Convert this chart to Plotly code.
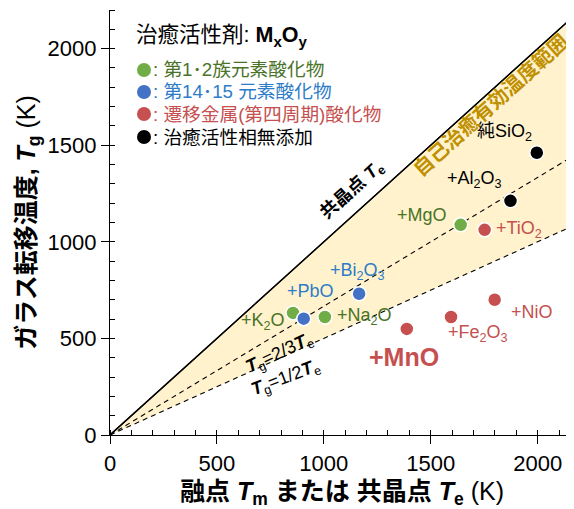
import plotly.graph_objects as go

# ---------------- data ----------------
green_names = ["+MgO", "+K<sub>2</sub>O", "+Na<sub>2</sub>O"]
green_te = [1640, 856, 1005]
green_tg = [1088, 632, 611]

blue_names = ["+Bi<sub>2</sub>O<sub>3</sub>", "+PbO"]
blue_te = [1165, 906]
blue_tg = [731, 602]

red_names = ["+TiO<sub>2</sub>", "+MnO", "+Fe<sub>2</sub>O<sub>3</sub>", "+NiO"]
red_te = [1752, 1388, 1595, 1799]
red_tg = [1062, 549, 611, 700]

black_names = ["純SiO<sub>2</sub>", "+Al<sub>2</sub>O<sub>3</sub>"]
black_te = [1996, 1873]
black_tg = [1461, 1212]

# label anchor positions (data units)
green_lab_x = [1458, 715, 1190]
green_lab_y = [1140, 585, 611]
blue_lab_x = [1159, 939]
blue_lab_y = [845, 746]
red_lab_x = [1911, 1374, 1720, 1972]
red_lab_y = [1062, 404, 523, 637]
black_lab_x = [1846, 1706]
black_lab_y = [1565, 1321]

ratio_lines = [1.0, 2.0 / 3.0, 0.5]
line_x = [0, 2600]

x_ticks = [0, 500, 1000, 1500, 2000]
y_ticks = [0, 500, 1000, 1500, 2000]

C_GREEN_M, C_GREEN_T = "#70AD47", "#4A7328"
C_BLUE_M, C_BLUE_T = "#4472C4", "#2E7CC8"
C_RED_M, C_RED_T = "#C5504F", "#C5504F"
C_BLACK = "#000000"
C_FILL = "#FFF2CC"
C_GOLD = "#BF9000"

FONT = "Liberation Sans, Arial, Noto Sans CJK JP, sans-serif"

fig = go.Figure()

# shaded region between Te line and 1/2 Te line
fig.add_trace(go.Scatter(x=line_x, y=[v * ratio_lines[0] for v in line_x], mode="lines",
                         line=dict(color="black", width=1.3), showlegend=False, hoverinfo="skip"))
fig.add_trace(go.Scatter(x=line_x, y=[v * ratio_lines[2] for v in line_x], mode="lines",
                         line=dict(color="black", width=1.1, dash="5px,4px"), fill="tonexty",
                         fillcolor=C_FILL, showlegend=False, hoverinfo="skip"))
fig.add_trace(go.Scatter(x=line_x, y=[v * ratio_lines[1] for v in line_x], mode="lines",
                         line=dict(color="black", width=1.1, dash="5px,4px"),
                         showlegend=False, hoverinfo="skip"))
fig.add_trace(go.Scatter(x=line_x, y=[v * ratio_lines[0] for v in line_x], mode="lines",
                         line=dict(color="black", width=1.3), showlegend=False, hoverinfo="skip"))

def pts(xs, ys, color):
    fig.add_trace(go.Scatter(x=xs, y=ys, mode="markers", showlegend=False,
                             marker=dict(size=14, color=color, line=dict(color="white", width=1.5))))

pts(green_te, green_tg, C_GREEN_M)
pts(blue_te, blue_tg, C_BLUE_M)
pts(red_te, red_tg, C_RED_M)
pts(black_te, black_tg, C_BLACK)

ann = []

def labels(names, xs, ys, color, bold_idx=None):
    for i, (n, x, y) in enumerate(zip(names, xs, ys)):
        txt = n
        size = 18
        if bold_idx is not None and i == bold_idx:
            txt = "<b>" + n + "</b>"
            size = 25
        ann.append(dict(x=x, y=y, xref="x", yref="y", text=txt, showarrow=False,
                        font=dict(family=FONT, size=size, color=color)))

labels(green_names, green_lab_x, green_lab_y, C_GREEN_T)
labels(blue_names, blue_lab_x, blue_lab_y, C_BLUE_T)
labels(red_names, red_lab_x, red_lab_y, C_RED_T, bold_idx=1)
labels(black_names, black_lab_x, black_lab_y, C_BLACK)

# rotated line labels
ann.append(dict(x=1775, y=1710, xref="x", yref="y", text="<b>自己治癒有効温度範囲</b>", showarrow=False,
                textangle=-42, font=dict(family="Noto Sans CJK JP", size=20, color=C_GOLD)))
ann.append(dict(x=1135, y=1265, xref="x", yref="y", text="<b>共晶点 <i>T</i><sub>e</sub></b>", showarrow=False,
                textangle=-42, font=dict(family=FONT, size=18, color="black")))
ann.append(dict(x=797, y=420, xref="x", yref="y",
                text="<b><i>T</i></b><sub>g</sub>=2/3<b><i>T</i></b><sub>e</sub>", showarrow=False,
                textangle=-25, font=dict(family=FONT, size=18, color="black")))
ann.append(dict(x=822, y=293, xref="x", yref="y",
                text="<b><i>T</i></b><sub>g</sub>=1/2<b><i>T</i></b><sub>e</sub>", showarrow=False,
                textangle=-21, font=dict(family=FONT, size=18, color="black")))

# page has an 8px body margin: figure is drawn from (8, 8)
OFF = 8
W, H = 574 - OFF, 509 - OFF
L, R, T, B = 110 - OFF, 0, 10 - OFF, 74
pw, ph = W - L - R, H - T - B

def px(xp):
    return (xp - OFF - L) / pw

def py(yp):
    return 1 - (yp - OFF - T) / ph

ann.append(dict(x=px(134), y=py(37), xref="paper", yref="paper",
                text="治癒活性剤: <b>M<sub>x</sub>O<sub>y</sub></b>",
                showarrow=False, xanchor="left", yanchor="middle",
                font=dict(family=FONT, size=21.5, color="black")))
legend_rows = [
    (": 第1･2族元素酸化物", C_GREEN_M, C_GREEN_T, 70),
    (": 第14･15 元素酸化物", C_BLUE_M, C_BLUE_T, 92),
    (": 遷移金属(第四周期)酸化物", C_RED_M, C_RED_T, 114),
    (": 治癒活性相無添加", C_BLACK, C_BLACK, 137),
]
shapes = []
for text, mc, tc, ypx in legend_rows:
    ann.append(dict(x=px(151), y=py(ypx), xref="paper", yref="paper", text=text,
                    showarrow=False, xanchor="left", yanchor="middle",
                    font=dict(family=FONT, size=18.7, color=tc)))
    shapes.append(dict(type="circle", xref="paper", yref="paper", xsizemode="pixel", ysizemode="pixel",
                       xanchor=px(144), yanchor=py(ypx),
                       x0=-7, x1=7, y0=-7, y1=7, fillcolor=mc, line=dict(width=0)))

fig.update_layout(
    width=W, height=H,
    margin=dict(l=L, r=R, t=T, b=B, autoexpand=False),
    paper_bgcolor="white", plot_bgcolor="white",
    annotations=ann, shapes=shapes,
    font=dict(family=FONT, color="black"),
    xaxis=dict(range=[0, 2170], tickvals=x_ticks, showline=True, linecolor="black", linewidth=1.3,
               ticks="outside", ticklen=8, tickcolor="black", showgrid=False, zeroline=False,
               automargin=False,
               tickfont=dict(family=FONT, size=22, color="black"),
               minor=dict(dtick=100, ticks="inside", ticklen=5, tickcolor="black"),
               title=dict(text="<b>融点 <i>T</i><sub>m</sub> または 共晶点 <i>T</i><sub>e</sub></b> (K)",
                          font=dict(family=FONT, size=25, color="black"), standoff=8)),
    yaxis=dict(range=[0, 2200], tickvals=y_ticks, showline=True, linecolor="black", linewidth=1.3,
               ticks="outside", ticklen=8, tickcolor="black", showgrid=False, zeroline=False,
               automargin=False,
               tickfont=dict(family=FONT, size=22, color="black"),
               minor=dict(dtick=100, ticks="inside", ticklen=5, tickcolor="black"),
               title=dict(text="<b>ガラス転移温度, <i>T</i><sub>g</sub></b> (K)",
                          font=dict(family=FONT, size=25, color="black"), standoff=4)),
)

fig.write_html("out.html")
